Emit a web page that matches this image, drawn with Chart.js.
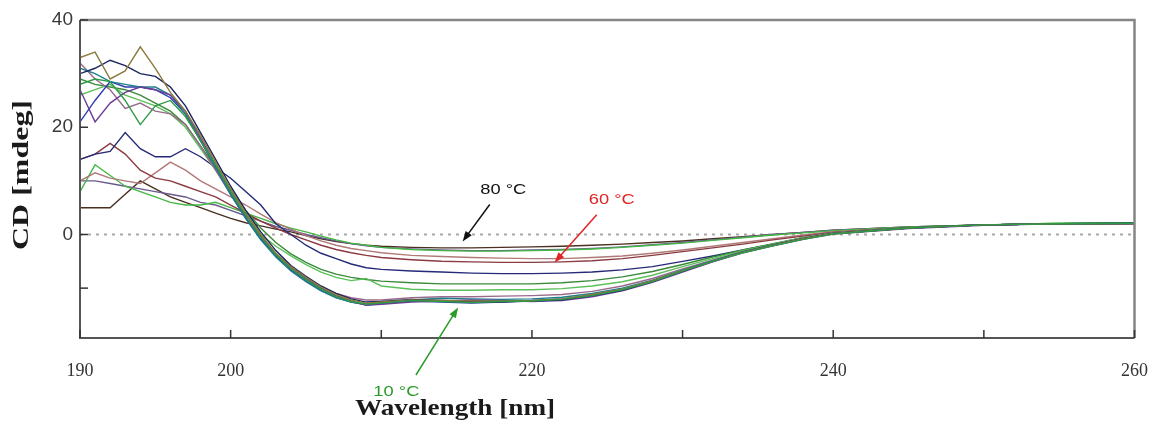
<!DOCTYPE html>
<html>
<head>
<meta charset="utf-8">
<title>CD spectra</title>
<script src="https://cdn.jsdelivr.net/npm/chart.js@4.4.1/dist/chart.umd.min.js"></script>
<style>
    html, body { margin: 0; padding: 0; background: #fff; }
    #wrap { width: 1170px; height: 430px; }
</style>
</head>
<body>
<div id="wrap"><canvas id="cdChart" width="1170" height="430"></canvas></div>
<script>
// ===== Data =====
const wavelengths = [190, 191, 192, 193, 194, 195, 196, 197, 198, 199,
    200, 201, 202, 203, 204, 205, 206, 207, 208, 209,
    210, 212, 214, 216, 218, 220, 222, 224, 226, 228,
    230, 232, 234, 236, 238, 240, 245, 250, 255, 260];

const temps = ['10', '15', '20', '25', '30', '35', '40', '45', '50', '55', '60', '65', '70', '75', '80'];

const cd10 = [28, 29, 28.5, 25, 20.5, 24, 25, 22, 17.5, 13, 8, 3.5, -0.5, -3.8, -6.4, -8.4, -10.2, -11.6, -12.5, -13,
    -12.8, -12.3, -12.5, -12.7, -12.5, -12.4, -12.1, -11.4, -10.3, -8.8, -6.8, -5, -3.4, -2.1, -0.9, 0.1, 1.2, 1.8, 2, 2.1];
const cd15 = [33, 34, 29, 30.5, 35, 31, 26.5, 23, 18.5, 13.5, 8.5, 4, 0, -3.5, -6, -8, -9.8, -11.2, -12.2, -12.8,
    -12.6, -12.2, -12.3, -12.4, -12.4, -12.3, -12, -11.2, -10.2, -8.6, -6.7, -5, -3.3, -2, -0.8, 0.2, 1.2, 1.8, 2, 2];
const cd20 = [30, 31, 32.5, 31.5, 30, 29.5, 27.5, 24, 19, 14, 9, 4.5, 0.5, -3, -5.8, -7.8, -9.6, -11, -12, -12.6,
    -12.5, -12.1, -12.3, -12.5, -12.6, -12.4, -12.2, -11.4, -10.4, -8.8, -6.8, -5, -3.3, -2, -0.8, 0.2, 1.2, 1.8, 2, 2.1];
const cd25 = [27, 21, 24.5, 26.5, 27.5, 27, 26, 23, 18, 13, 8, 3.5, -0.3, -3.6, -6.2, -8.2, -10, -11.4, -12.4, -13.2,
    -13, -12.6, -12.4, -12.2, -12.3, -12.5, -12.3, -11.6, -10.5, -8.9, -7, -5.1, -3.4, -2.1, -0.9, 0.1, 1.1, 1.7, 2, 2];
const cd30 = [31, 30, 28.5, 28, 27.5, 27.5, 26, 22.5, 17.5, 12.5, 7.5, 3, -1, -4.2, -6.8, -8.8, -10.5, -11.8, -12.6, -13,
    -12.7, -12.2, -11.9, -12, -12.1, -12, -11.7, -11, -10, -8.5, -6.6, -4.9, -3.2, -1.9, -0.8, 0.2, 1.2, 1.8, 2, 2.1];
const cd35 = [21, 25, 28.5, 27.5, 27.5, 27, 25.5, 22.5, 17.5, 12.5, 7.5, 3, -0.8, -4, -6.6, -8.6, -10.4, -11.7, -12.6, -13.1,
    -12.9, -12.4, -12.6, -12.8, -12.6, -12.3, -12, -11.3, -10.3, -8.7, -6.8, -5, -3.3, -2, -0.8, 0.2, 1.2, 1.8, 2, 2];
const cd40 = [32, 29, 27, 23.5, 24.5, 23, 22.5, 20.5, 16.5, 12, 7.5, 3.2, -0.5, -3.6, -6, -8, -9.8, -11, -11.8, -12.2,
    -12.2, -11.8, -11.6, -11.6, -11.5, -11.4, -11.2, -10.6, -9.6, -8.2, -6.4, -4.8, -3.2, -1.9, -0.7, 0.3, 1.2, 1.8, 2, 2];
const cd45 = [26, 27, 28, 26, 25, 24, 22.5, 20, 16, 12, 8, 4.5, 0, -2.2, -4, -5.6, -7, -8, -8.6, -8.2,
    -9.6, -10.2, -10.4, -10.4, -10.3, -10.3, -10.1, -9.6, -8.8, -7.6, -6, -4.5, -3, -1.8, -0.6, 0.3, 1.3, 1.8, 2.1, 2.1];
const cd50 = [29, 28, 27.5, 27, 26, 24.5, 23, 20.5, 16.5, 12.5, 8.5, 4.5, 1.2, -1.5, -3.6, -5.2, -6.5, -7.4, -8, -8.4,
    -8.7, -9, -9.2, -9.2, -9.2, -9.2, -9, -8.6, -7.9, -6.9, -5.6, -4.2, -2.9, -1.7, -0.6, 0.3, 1.3, 1.8, 2, 2.1];
const cd55 = [14, 15, 15.5, 19, 16, 14.5, 14.5, 16, 14.5, 12.5, 10.5, 8, 5.5, 2, 0, -2, -3.5, -4.5, -5.5, -6.2,
    -6.5, -6.8, -7, -7.2, -7.3, -7.3, -7.2, -7, -6.6, -6, -5, -4, -2.9, -1.8, -0.6, 0.3, 1.3, 1.8, 2, 2.1];
const cd60 = [14, 15, 17, 15, 12, 10.5, 10, 9, 8, 7, 5.5, 4, 2.5, 1.2, 0, -1, -2, -2.8, -3.4, -3.9,
    -4.3, -4.7, -5, -5.1, -5.2, -5.2, -5.1, -4.9, -4.5, -3.9, -3.2, -2.5, -1.8, -1, -0.3, 0.4, 1.3, 1.8, 2, 2.1];
const cd65 = [10, 11.5, 10.5, 10, 9.5, 11.5, 13.5, 12, 10, 8.5, 7, 5.5, 3.8, 2.2, 1, -0.2, -1.2, -2, -2.6, -3,
    -3.4, -3.9, -4.1, -4.3, -4.4, -4.5, -4.5, -4.3, -4, -3.5, -2.9, -2.2, -1.5, -0.8, -0.1, 0.5, 1.3, 1.8, 2, 2];
const cd70 = [8, 13, 11, 9, 8, 7, 6, 5.5, 5.5, 6, 5, 4, 3, 2, 1.2, 0.5, -0.3, -1, -1.6, -2,
    -2.4, -2.8, -3, -3.1, -3.1, -3, -2.9, -2.7, -2.4, -2, -1.6, -1.1, -0.6, -0.1, 0.3, 0.7, 1.4, 1.8, 2.1, 2.1];
const cd75 = [10, 10, 9.5, 9, 8.5, 8, 7.5, 7, 6, 5.5, 4.5, 3.5, 2.5, 1.5, 0.8, 0, -0.6, -1.2, -1.7, -2.1,
    -2.4, -2.7, -2.9, -3, -3, -2.9, -2.8, -2.6, -2.3, -1.9, -1.5, -1, -0.5, 0, 0.4, 0.8, 1.4, 1.8, 2, 2.1];
const cd80 = [5, 5, 5, 7.5, 10, 8.5, 7, 6, 5, 4, 3, 2.2, 1.6, 1, 0.5, -0.2, -0.8, -1.3, -1.7, -2,
    -2.2, -2.4, -2.5, -2.5, -2.4, -2.3, -2.2, -2, -1.8, -1.5, -1.2, -0.8, -0.4, 0, 0.4, 0.8, 1.4, 1.8, 2, 2.1];

const series = [cd10, cd15, cd20, cd25, cd30, cd35, cd40, cd45, cd50, cd55, cd60, cd65, cd70, cd75, cd80];
const lineColors = ['#2e9a46', '#8c7a3c', '#1c2460', '#6a3c98', '#1f7f8c', '#2a3cb0', '#9a6a8c', '#5cc05a',
    '#3a8a3a', '#252a78', '#8a3a40', '#b07a78', '#44b844', '#6a5a90', '#4a3020'];

const xTicks = [190, 200, 210, 220, 230, 240, 250, 260];
const xLabels = [190, 200, 220, 240, 260];
const yTicks = [-10, 0, 20, 40];
const yLabels = [0, 20, 40];

// Arrow notes: text position and arrow from/to, in data units
const notes = [
    { text: '80 °C', color: '#111111', at: [218.1, 8.4], from: [217.2, 5.6], to: [215.4, -1.3] },
    { text: '60 °C', color: '#e02424', at: [225.3, 6.5], from: [224.3, 3.7], to: [221.5, -5.2] },
    { text: '10 °C', color: '#2a9a2a', at: [211.0, -29.3], from: [212.3, -26.2], to: [215.1, -13.6] }
];

// ===== Helpers =====
function drawFitted(ctx, text, x, y, width, font) {
    ctx.save();
    ctx.font = font;
    const w = ctx.measureText(text).width;
    ctx.translate(x, y);
    ctx.scale(width / w, 1);
    ctx.textAlign = 'center';
    ctx.textBaseline = 'middle';
    ctx.fillText(text, 0, 0);
    ctx.restore();
}

function drawArrow(ctx, x1, y1, x2, y2, color) {
    const ang = Math.atan2(y2 - y1, x2 - x1);
    const head = 11;
    ctx.save();
    ctx.strokeStyle = color;
    ctx.fillStyle = color;
    ctx.lineWidth = 1.5;
    ctx.beginPath();
    ctx.moveTo(x1, y1);
    ctx.lineTo(x2 - Math.cos(ang) * head * 0.8, y2 - Math.sin(ang) * head * 0.8);
    ctx.stroke();
    ctx.beginPath();
    ctx.moveTo(x2, y2);
    ctx.lineTo(x2 - head * Math.cos(ang - 0.35), y2 - head * Math.sin(ang - 0.35));
    ctx.lineTo(x2 - head * Math.cos(ang + 0.35), y2 - head * Math.sin(ang + 0.35));
    ctx.closePath();
    ctx.fill();
    ctx.restore();
}

// ===== Plot decorations =====
const zeroLine = {
    id: 'zeroLine',
    beforeDatasetsDraw(chart) {
        const { ctx, chartArea, scales } = chart;
        const y0 = scales.y.getPixelForValue(0);
        ctx.save();
        ctx.strokeStyle = '#a8a8a8';
        ctx.lineWidth = 2;
        ctx.setLineDash([3, 5]);
        ctx.beginPath();
        ctx.moveTo(chartArea.left, y0);
        ctx.lineTo(chartArea.right, y0);
        ctx.stroke();
        ctx.restore();
    }
};

const frame = {
    id: 'frame',
    afterDatasetsDraw(chart) {
        const { ctx, chartArea: a, scales } = chart;
        ctx.save();
        ctx.lineWidth = 2.5;
        ctx.strokeStyle = '#858585';
        ctx.beginPath();
        ctx.moveTo(a.left, a.top);
        ctx.lineTo(a.right, a.top);
        ctx.lineTo(a.right, a.bottom);
        ctx.stroke();
        ctx.lineWidth = 2;
        ctx.strokeStyle = '#555';
        ctx.beginPath();
        ctx.moveTo(a.left, a.top);
        ctx.lineTo(a.left, a.bottom);
        ctx.lineTo(a.right, a.bottom);
        ctx.stroke();

        // inner tick marks
        ctx.lineWidth = 1.5;
        ctx.strokeStyle = '#333';
        xTicks.forEach(v => {
            const x = scales.x.getPixelForValue(v);
            ctx.beginPath();
            ctx.moveTo(x, a.bottom);
            ctx.lineTo(x, a.bottom - 8);
            ctx.stroke();
        });
        yTicks.forEach(v => {
            const y = scales.y.getPixelForValue(v);
            ctx.beginPath();
            ctx.moveTo(a.left, y);
            ctx.lineTo(a.left + 8, y);
            ctx.stroke();
        });
        ctx.restore();
    }
};

const titlesAndNotes = {
    id: 'titlesAndNotes',
    afterDraw(chart) {
        const { ctx, chartArea: a, scales } = chart;
        ctx.save();
        ctx.fillStyle = '#1a1a1a';
        drawFitted(ctx, 'Wavelength [nm]', scales.x.getPixelForValue(214.9), 409, 200, 'bold 23px "Liberation Serif"');
        ctx.translate(22, (a.top + a.bottom) / 2 - 4);
        ctx.rotate(-Math.PI / 2);
        drawFitted(ctx, 'CD [mdeg]', 0, 0, 150, 'bold 23px "Liberation Serif"');
        ctx.restore();

        notes.forEach(n => {
            const px = v => scales.x.getPixelForValue(v);
            const py = v => scales.y.getPixelForValue(v);
            ctx.save();
            ctx.fillStyle = n.color;
            drawFitted(ctx, n.text, px(n.at[0]), py(n.at[1]), 46, '15px "Liberation Sans Narrow", "Liberation Sans"');
            ctx.restore();
            drawArrow(ctx, px(n.from[0]), py(n.from[1]), px(n.to[0]), py(n.to[1]), n.color);
        });
    }
};

// ===== Chart =====
const datasets = series.map((vals, i) => ({
    label: temps[i] + ' °C',
    data: wavelengths.map((w, j) => ({ x: w, y: vals[j] })),
    borderColor: lineColors[i],
    borderWidth: 1.4,
    pointRadius: 0,
    tension: 0,
    fill: false
}));

new Chart(document.getElementById('cdChart'), {
    type: 'line',
    data: { datasets: datasets },
    options: {
        responsive: false,
        animation: false,
        layout: { padding: { top: 20, right: 23, left: 0, bottom: 0 } },
        plugins: {
            legend: { display: false },
            tooltip: { enabled: false }
        },
        scales: {
            x: {
                type: 'linear',
                min: 190,
                max: 260,
                afterBuildTicks: scale => { scale.ticks = xTicks.map(v => ({ value: v })); },
                afterFit: scale => { scale.height = 92; },
                grid: { display: false, drawTicks: false },
                border: { display: false },
                ticks: {
                    autoSkip: false,
                    maxRotation: 0,
                    padding: 22,
                    color: '#333',
                    font: { family: '"Liberation Serif"', size: 18 },
                    callback: v => xLabels.includes(v) ? String(v) : ''
                }
            },
            y: {
                min: -19.3,
                max: 40,
                afterBuildTicks: scale => { scale.ticks = yTicks.map(v => ({ value: v })); },
                afterFit: scale => { scale.width = 80; },
                grid: { display: false, drawTicks: false },
                border: { display: false },
                ticks: {
                    padding: 7,
                    color: '#3a3a3a',
                    font: { family: '"Liberation Sans Narrow", "Liberation Sans"', size: 19 },
                    callback: v => yLabels.includes(v) ? String(v) : ''
                }
            }
        }
    },
    plugins: [zeroLine, frame, titlesAndNotes]
});
</script>
</body>
</html>
